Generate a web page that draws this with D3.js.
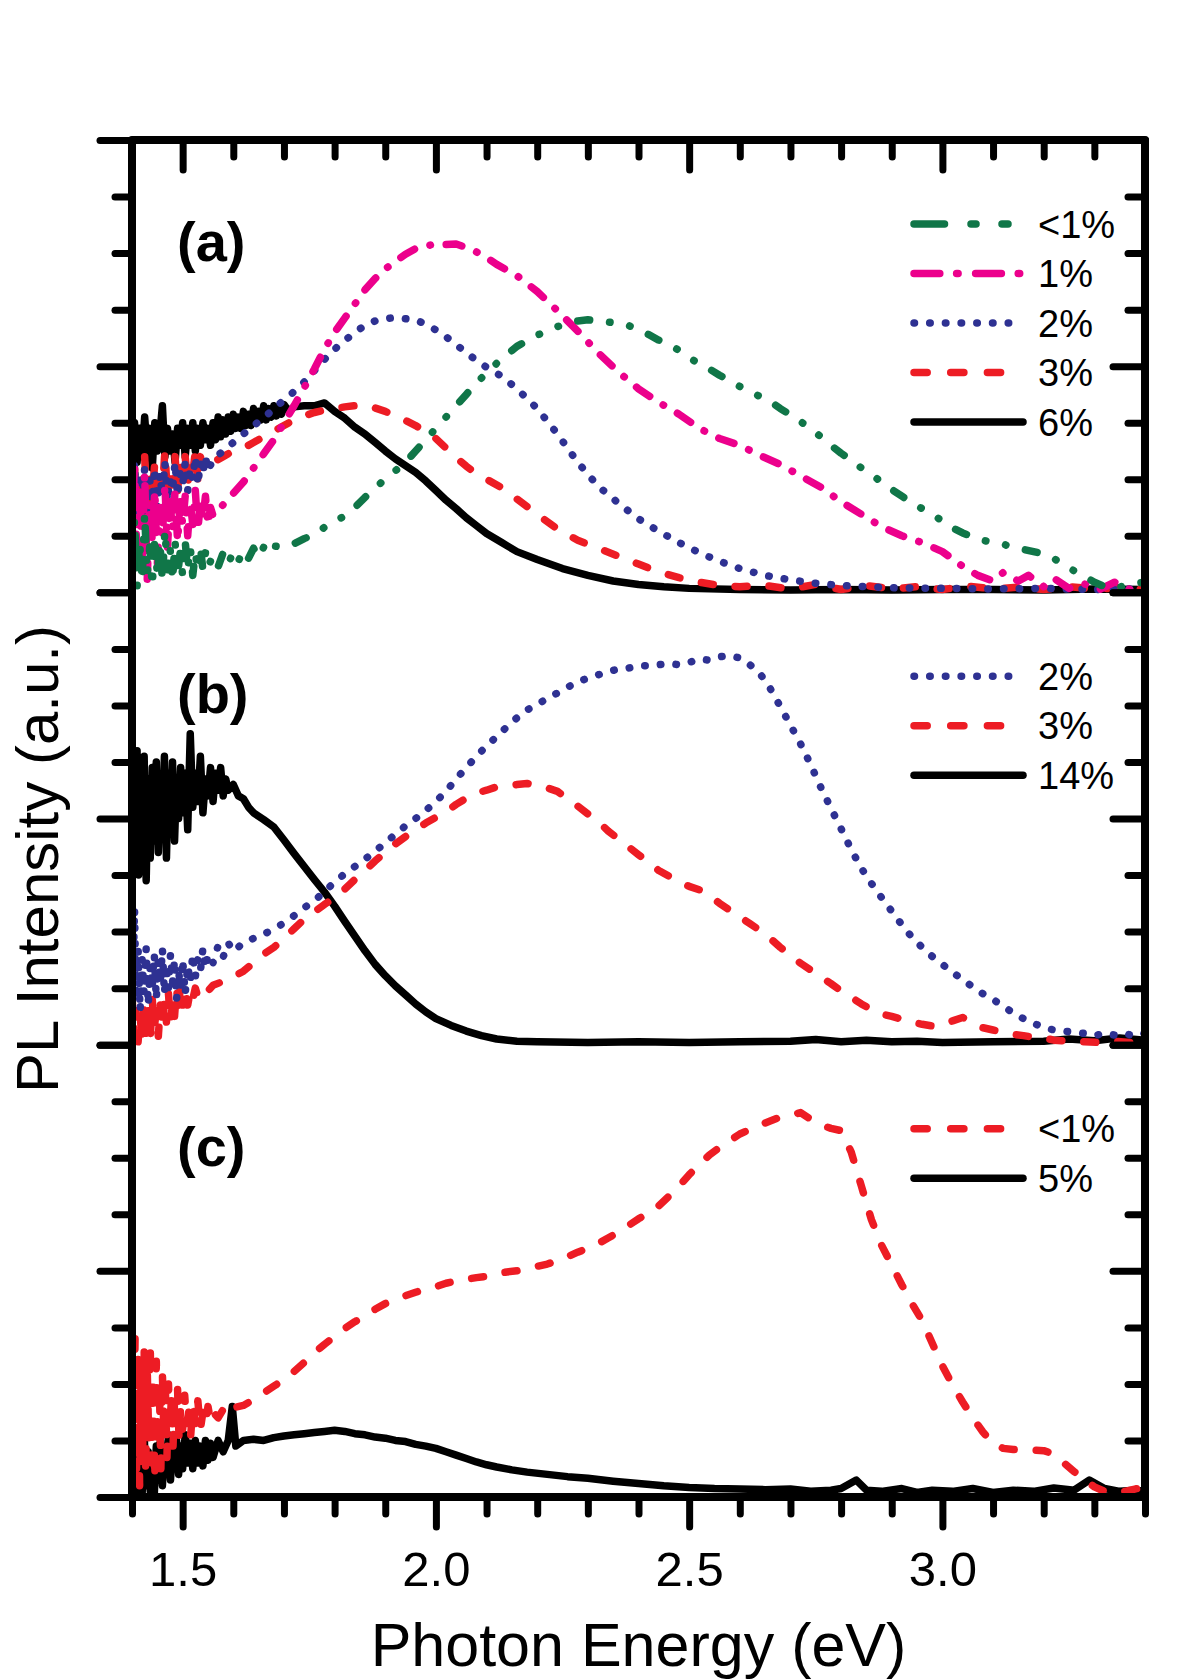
<!DOCTYPE html>
<html>
<head>
<meta charset="utf-8">
<script src="https://cdn.jsdelivr.net/npm/d3@7"></script>
<style>
  html, body { margin: 0; padding: 0; background: #fff; }
  svg { display: block; }
  text { font-family: "Liberation Sans", Arial, Helvetica, sans-serif; fill: #000; }
</style>
</head>
<body>
<svg id="chart" width="1200" height="1679"></svg>
<script>
// ---------------- DATA (Photon energy in eV, PL intensity in a.u.) ----------------
const xTickLabels = [1.5, 2.0, 2.5, 3.0];
const panelLabels = ["(a)", "(b)", "(c)"];

// Panel (a)
const a_lt1 = [[1.400,0.3],[1.405,1.3],[1.410,0.1],[1.415,0.9],[1.420,0.2],[1.425,1.4],[1.430,0.3],[1.435,0.8],[1.440,0.1],[1.445,1.0],[1.450,0.3],[1.455,0.9],[1.460,0.2],[1.465,1.1],[1.470,0.4],[1.475,0.8],[1.480,0.2],[1.485,0.9],[1.490,0.3],[1.495,0.7],[1.500,0.3],[1.505,0.9],[1.510,0.4],[1.515,0.8],[1.520,0.3],[1.525,0.7],[1.530,0.4],[1.535,0.8],[1.540,0.4],[1.545,0.7],[1.550,0.45],[1.56,0.65],[1.57,0.45],[1.58,0.7],[1.59,0.5],[1.60,0.72],[1.61,0.55],[1.62,0.75],[1.63,0.6],[1.64,0.78],[1.65,0.62],[1.66,0.8],[1.67,0.68],[1.68,0.82],[1.70,0.8],[1.72,0.86],[1.74,0.95],[1.76,1.02],[1.78,1.15],[1.80,1.26],[1.82,1.35],[1.84,1.5],[1.86,1.68],[1.88,1.85],[1.90,2.0],[1.92,2.15],[1.94,2.3],[1.96,2.5],[1.98,2.7],[2.00,2.9],[2.02,3.1],[2.04,3.3],[2.06,3.5],[2.08,3.7],[2.10,3.88],[2.12,4.05],[2.14,4.2],[2.16,4.35],[2.18,4.45],[2.20,4.55],[2.22,4.62],[2.24,4.7],[2.26,4.76],[2.28,4.8],[2.30,4.82],[2.32,4.8],[2.34,4.78],[2.36,4.76],[2.38,4.72],[2.40,4.65],[2.42,4.56],[2.44,4.46],[2.46,4.38],[2.48,4.28],[2.50,4.15],[2.52,4.04],[2.54,3.95],[2.56,3.84],[2.58,3.74],[2.60,3.64],[2.62,3.56],[2.64,3.46],[2.66,3.38],[2.68,3.25],[2.70,3.14],[2.72,3.02],[2.74,2.9],[2.76,2.75],[2.78,2.6],[2.80,2.46],[2.82,2.34],[2.84,2.2],[2.86,2.08],[2.88,1.95],[2.90,1.82],[2.92,1.7],[2.94,1.58],[2.96,1.48],[2.98,1.38],[3.00,1.26],[3.02,1.14],[3.04,1.05],[3.06,0.98],[3.08,0.92],[3.10,0.88],[3.12,0.85],[3.14,0.8],[3.16,0.76],[3.18,0.72],[3.20,0.68],[3.22,0.6],[3.24,0.48],[3.26,0.38],[3.28,0.28],[3.30,0.18],[3.32,0.1],[3.34,0.06],[3.36,0.12],[3.38,0.16],[3.40,0.18]];
const a_1 = [[1.400,1.0],[1.405,2.3],[1.410,0.4],[1.415,1.9],[1.420,0.6],[1.425,2.1],[1.430,0.2],[1.435,1.6],[1.440,0.9],[1.445,1.8],[1.450,0.5],[1.455,1.5],[1.460,1.0],[1.465,1.9],[1.470,0.8],[1.475,1.6],[1.480,1.1],[1.485,1.8],[1.490,0.9],[1.495,1.6],[1.500,1.2],[1.505,1.7],[1.510,1.0],[1.515,1.6],[1.520,1.2],[1.525,1.8],[1.530,1.1],[1.535,1.6],[1.540,1.3],[1.545,1.7],[1.550,1.2],[1.555,1.5],[1.560,1.35],[1.57,1.45],[1.58,1.55],[1.60,1.75],[1.62,1.95],[1.64,2.2],[1.66,2.45],[1.68,2.7],[1.70,3.0],[1.72,3.3],[1.74,3.62],[1.76,3.95],[1.78,4.3],[1.80,4.6],[1.82,4.85],[1.84,5.1],[1.86,5.35],[1.88,5.55],[1.90,5.72],[1.92,5.85],[1.94,5.98],[1.96,6.08],[1.98,6.12],[2.00,6.17],[2.02,6.15],[2.04,6.16],[2.06,6.1],[2.08,6.02],[2.10,5.92],[2.12,5.8],[2.16,5.6],[2.20,5.32],[2.24,4.98],[2.28,4.62],[2.32,4.24],[2.36,3.9],[2.40,3.6],[2.44,3.36],[2.48,3.15],[2.52,2.9],[2.56,2.72],[2.60,2.6],[2.64,2.42],[2.68,2.26],[2.72,2.06],[2.76,1.86],[2.80,1.6],[2.84,1.38],[2.88,1.16],[2.92,1.0],[2.96,0.88],[3.00,0.72],[3.04,0.46],[3.07,0.3],[3.10,0.2],[3.12,0.35],[3.15,0.2],[3.17,0.3],[3.20,0.1],[3.22,0.25],[3.25,0.07],[3.28,0.15],[3.31,0.05],[3.34,0.18],[3.37,0.05],[3.40,0.1]];
const a_2 = [[1.400,1.4],[1.405,2.3],[1.410,1.2],[1.415,2.1],[1.420,1.5],[1.425,2.2],[1.430,1.3],[1.435,2.0],[1.440,1.6],[1.445,2.2],[1.450,1.5],[1.455,2.1],[1.460,1.7],[1.465,2.3],[1.470,1.6],[1.475,2.0],[1.480,1.8],[1.485,2.3],[1.490,1.7],[1.495,2.1],[1.500,1.9],[1.505,2.3],[1.510,1.8],[1.515,2.2],[1.520,2.0],[1.525,2.4],[1.530,1.9],[1.535,2.3],[1.540,2.1],[1.545,2.4],[1.550,2.15],[1.56,2.35],[1.58,2.5],[1.60,2.65],[1.62,2.8],[1.64,2.95],[1.66,3.08],[1.68,3.25],[1.70,3.4],[1.72,3.55],[1.74,3.72],[1.76,3.92],[1.78,4.12],[1.80,4.3],[1.82,4.45],[1.84,4.6],[1.86,4.72],[1.88,4.8],[1.90,4.84],[1.92,4.86],[1.94,4.84],[1.96,4.82],[1.98,4.74],[2.00,4.64],[2.02,4.52],[2.04,4.38],[2.06,4.24],[2.08,4.1],[2.10,3.98],[2.13,3.82],[2.16,3.6],[2.20,3.25],[2.24,2.8],[2.28,2.3],[2.32,1.88],[2.36,1.58],[2.40,1.3],[2.44,1.08],[2.48,0.88],[2.52,0.7],[2.56,0.55],[2.60,0.42],[2.65,0.3],[2.70,0.22],[2.75,0.16],[2.80,0.12],[2.85,0.1],[2.90,0.08],[3.00,0.07],[3.10,0.06],[3.20,0.07],[3.30,0.05],[3.40,0.06]];
const a_3 = [[1.400,1.6],[1.405,2.2],[1.410,1.3],[1.415,2.0],[1.420,1.5],[1.425,2.4],[1.430,1.4],[1.435,2.1],[1.440,1.7],[1.445,2.3],[1.450,1.6],[1.455,2.2],[1.460,1.8],[1.465,2.5],[1.470,1.7],[1.475,2.2],[1.480,1.9],[1.485,2.4],[1.490,1.8],[1.495,2.3],[1.500,2.0],[1.505,2.4],[1.510,1.9],[1.515,2.3],[1.520,2.1],[1.525,2.5],[1.530,2.0],[1.535,2.4],[1.540,2.2],[1.550,2.35],[1.56,2.3],[1.58,2.4],[1.60,2.5],[1.62,2.55],[1.64,2.65],[1.66,2.75],[1.68,2.85],[1.70,2.95],[1.72,3.05],[1.74,3.12],[1.76,3.18],[1.78,3.22],[1.80,3.25],[1.82,3.28],[1.84,3.3],[1.86,3.31],[1.88,3.26],[1.90,3.2],[1.92,3.12],[1.94,3.04],[1.96,2.95],[1.98,2.84],[2.00,2.72],[2.02,2.55],[2.04,2.38],[2.06,2.23],[2.08,2.1],[2.10,2.0],[2.13,1.85],[2.16,1.65],[2.20,1.38],[2.24,1.12],[2.28,0.92],[2.32,0.78],[2.36,0.64],[2.40,0.5],[2.44,0.36],[2.48,0.26],[2.52,0.18],[2.56,0.12],[2.60,0.1],[2.65,0.12],[2.70,0.06],[2.75,0.14],[2.80,0.05],[2.85,0.12],[2.90,0.06],[2.95,0.1],[3.00,0.05],[3.05,0.11],[3.10,0.06],[3.15,0.09],[3.20,0.05],[3.25,0.1],[3.30,0.06],[3.35,0.08],[3.40,0.05]];
const a_6 = [[1.400,2.6],[1.405,3.0],[1.410,2.3],[1.415,2.9],[1.420,2.4],[1.425,3.1],[1.430,2.5],[1.435,2.9],[1.440,2.2],[1.445,3.0],[1.450,2.5],[1.455,2.8],[1.460,3.3],[1.465,2.4],[1.470,2.9],[1.475,2.5],[1.480,2.8],[1.485,2.3],[1.490,2.9],[1.495,2.6],[1.500,3.0],[1.505,2.4],[1.510,2.9],[1.515,2.6],[1.520,3.0],[1.525,2.5],[1.530,2.9],[1.535,2.6],[1.540,3.0],[1.545,2.7],[1.550,2.9],[1.555,2.6],[1.560,3.0],[1.565,2.7],[1.570,3.1],[1.575,2.75],[1.580,3.05],[1.585,2.8],[1.590,3.1],[1.595,2.85],[1.600,3.15],[1.605,2.9],[1.610,3.1],[1.615,2.9],[1.620,3.2],[1.625,2.95],[1.630,3.15],[1.635,2.95],[1.640,3.25],[1.645,3.0],[1.650,3.2],[1.655,3.05],[1.660,3.3],[1.665,3.05],[1.670,3.25],[1.675,3.1],[1.680,3.3],[1.685,3.12],[1.690,3.28],[1.695,3.15],[1.700,3.32],[1.710,3.2],[1.720,3.28],[1.740,3.3],[1.760,3.3],[1.780,3.35],[1.800,3.2],[1.820,3.08],[1.840,2.92],[1.860,2.8],[1.880,2.65],[1.900,2.5],[1.920,2.36],[1.940,2.24],[1.960,2.12],[1.980,1.97],[2.000,1.8],[2.020,1.63],[2.040,1.48],[2.060,1.32],[2.080,1.18],[2.100,1.04],[2.130,0.88],[2.160,0.72],[2.200,0.58],[2.250,0.42],[2.300,0.3],[2.350,0.2],[2.400,0.14],[2.450,0.1],[2.500,0.07],[2.600,0.05],[2.700,0.04],[2.800,0.05],[2.900,0.04],[3.000,0.05],[3.100,0.05],[3.200,0.04],[3.300,0.06],[3.400,0.05]];

// Panel (b)
const b_2 = [[1.400,3.0],[1.402,1.2],[1.405,2.4],[1.408,0.8],[1.412,1.7],[1.416,0.6],[1.420,1.5],[1.424,0.9],[1.428,1.7],[1.432,0.7],[1.436,1.4],[1.440,1.0],[1.444,1.6],[1.448,0.8],[1.452,1.5],[1.456,1.1],[1.460,1.7],[1.464,0.9],[1.468,1.4],[1.472,1.0],[1.476,1.6],[1.480,1.1],[1.484,1.5],[1.488,0.8],[1.492,1.3],[1.496,1.0],[1.500,1.5],[1.505,0.9],[1.510,1.4],[1.515,1.1],[1.520,1.6],[1.525,1.2],[1.530,1.5],[1.535,1.3],[1.540,1.7],[1.545,1.35],[1.550,1.6],[1.56,1.45],[1.57,1.75],[1.58,1.55],[1.59,1.8],[1.60,1.65],[1.62,1.8],[1.64,1.88],[1.66,1.95],[1.68,2.05],[1.70,2.15],[1.72,2.28],[1.74,2.42],[1.76,2.55],[1.78,2.7],[1.80,2.88],[1.82,3.02],[1.84,3.15],[1.86,3.28],[1.88,3.42],[1.90,3.57],[1.92,3.72],[1.94,3.87],[1.96,4.0],[1.98,4.14],[2.00,4.3],[2.02,4.48],[2.04,4.7],[2.06,4.9],[2.08,5.1],[2.10,5.28],[2.12,5.45],[2.14,5.62],[2.16,5.78],[2.18,5.92],[2.20,6.02],[2.22,6.12],[2.24,6.22],[2.26,6.32],[2.28,6.42],[2.30,6.48],[2.32,6.54],[2.34,6.6],[2.36,6.64],[2.38,6.66],[2.40,6.7],[2.42,6.7],[2.44,6.72],[2.46,6.74],[2.48,6.72],[2.50,6.76],[2.52,6.82],[2.54,6.8],[2.56,6.86],[2.58,6.88],[2.60,6.84],[2.62,6.72],[2.64,6.56],[2.66,6.3],[2.68,5.98],[2.70,5.65],[2.72,5.32],[2.74,4.95],[2.76,4.55],[2.78,4.18],[2.80,3.82],[2.82,3.45],[2.84,3.12],[2.86,2.85],[2.88,2.6],[2.90,2.36],[2.92,2.12],[2.94,1.9],[2.96,1.72],[2.98,1.56],[3.00,1.42],[3.02,1.28],[3.04,1.15],[3.06,1.02],[3.08,0.9],[3.10,0.8],[3.12,0.68],[3.14,0.56],[3.16,0.46],[3.18,0.38],[3.20,0.3],[3.22,0.26],[3.24,0.24],[3.26,0.22],[3.28,0.2],[3.30,0.16],[3.32,0.2],[3.34,0.17],[3.36,0.2],[3.38,0.15],[3.40,0.2]];
const b_3 = [[1.400,0.9],[1.404,0.1],[1.408,0.6],[1.412,0.05],[1.416,0.5],[1.420,0.1],[1.424,0.7],[1.428,0.2],[1.432,0.6],[1.436,0.1],[1.440,0.8],[1.444,0.3],[1.448,0.6],[1.452,0.15],[1.456,0.7],[1.460,0.3],[1.464,0.8],[1.468,0.4],[1.472,0.9],[1.476,0.4],[1.480,0.8],[1.484,0.5],[1.488,1.0],[1.492,0.6],[1.496,1.15],[1.500,0.7],[1.505,1.0],[1.510,0.7],[1.515,0.95],[1.520,0.8],[1.525,1.0],[1.530,0.85],[1.540,1.0],[1.55,0.95],[1.56,1.05],[1.58,1.12],[1.60,1.2],[1.62,1.3],[1.64,1.45],[1.66,1.6],[1.68,1.72],[1.70,1.88],[1.72,2.05],[1.74,2.22],[1.76,2.35],[1.78,2.48],[1.80,2.6],[1.82,2.75],[1.84,2.92],[1.86,3.08],[1.88,3.25],[1.90,3.4],[1.92,3.55],[1.94,3.68],[1.96,3.8],[1.98,3.92],[2.00,4.02],[2.02,4.12],[2.04,4.25],[2.06,4.36],[2.08,4.45],[2.10,4.5],[2.12,4.56],[2.14,4.58],[2.16,4.6],[2.18,4.62],[2.20,4.58],[2.22,4.54],[2.24,4.48],[2.26,4.35],[2.28,4.22],[2.30,4.08],[2.32,3.95],[2.34,3.78],[2.36,3.64],[2.38,3.5],[2.40,3.36],[2.42,3.22],[2.44,3.08],[2.46,2.98],[2.48,2.88],[2.50,2.8],[2.52,2.74],[2.54,2.64],[2.56,2.5],[2.58,2.38],[2.60,2.26],[2.62,2.14],[2.64,2.02],[2.66,1.88],[2.68,1.72],[2.70,1.58],[2.72,1.44],[2.74,1.32],[2.76,1.2],[2.78,1.08],[2.80,0.95],[2.82,0.84],[2.84,0.72],[2.86,0.62],[2.88,0.54],[2.90,0.5],[2.92,0.45],[2.94,0.4],[2.96,0.36],[2.98,0.33],[3.00,0.35],[3.02,0.42],[3.04,0.48],[3.06,0.4],[3.08,0.3],[3.10,0.26],[3.12,0.22],[3.14,0.18],[3.16,0.16],[3.18,0.13],[3.20,0.12],[3.22,0.08],[3.25,0.06],[3.28,0.05],[3.31,0.04],[3.34,0.06],[3.37,0.04],[3.40,0.05]];
const b_14 = [[1.400,3.2],[1.403,5.0],[1.406,3.6],[1.410,5.2],[1.413,3.0],[1.417,4.8],[1.420,3.4],[1.424,5.1],[1.428,2.9],[1.432,4.7],[1.436,3.3],[1.440,4.9],[1.444,3.6],[1.448,5.0],[1.452,3.4],[1.456,4.6],[1.460,3.8],[1.464,5.1],[1.468,3.3],[1.472,4.8],[1.476,3.9],[1.480,5.0],[1.484,3.6],[1.488,4.7],[1.492,4.0],[1.496,4.9],[1.500,4.1],[1.505,4.8],[1.510,3.8],[1.515,5.5],[1.520,4.2],[1.525,4.8],[1.530,4.3],[1.535,5.1],[1.540,4.1],[1.545,4.7],[1.550,4.4],[1.555,4.9],[1.560,4.3],[1.565,4.8],[1.570,4.5],[1.575,4.9],[1.580,4.4],[1.585,4.7],[1.590,4.5],[1.600,4.6],[1.610,4.4],[1.620,4.35],[1.63,4.2],[1.64,4.1],[1.66,3.98],[1.68,3.85],[1.70,3.62],[1.72,3.38],[1.74,3.15],[1.76,2.92],[1.78,2.7],[1.80,2.45],[1.82,2.18],[1.84,1.92],[1.86,1.66],[1.88,1.42],[1.90,1.22],[1.92,1.04],[1.94,0.88],[1.96,0.72],[1.98,0.58],[2.00,0.46],[2.03,0.34],[2.06,0.24],[2.09,0.16],[2.12,0.1],[2.16,0.06],[2.20,0.05],[2.3,0.04],[2.4,0.05],[2.5,0.04],[2.6,0.05],[2.7,0.06],[2.75,0.09],[2.8,0.05],[2.85,0.08],[2.9,0.05],[2.95,0.06],[3.0,0.04],[3.1,0.05],[3.2,0.06],[3.25,0.1],[3.3,0.07],[3.35,0.12],[3.4,0.08]];

// Panel (c)
const c_lt1 = [[1.400,3.4],[1.403,0.3],[1.406,2.8],[1.409,0.5],[1.412,2.5],[1.415,0.2],[1.418,2.2],[1.421,0.8],[1.424,2.6],[1.427,0.4],[1.430,2.3],[1.433,1.0],[1.436,2.7],[1.439,0.6],[1.442,2.1],[1.445,0.3],[1.448,2.4],[1.451,0.9],[1.454,2.0],[1.457,0.5],[1.460,2.2],[1.463,1.1],[1.466,1.9],[1.469,0.7],[1.472,2.0],[1.475,1.2],[1.478,1.8],[1.481,0.9],[1.484,1.7],[1.487,1.3],[1.490,1.9],[1.493,1.0],[1.496,1.6],[1.500,1.2],[1.504,1.8],[1.508,1.3],[1.512,1.5],[1.516,1.1],[1.520,1.6],[1.525,1.3],[1.530,1.7],[1.535,1.2],[1.540,1.5],[1.545,1.3],[1.550,1.6],[1.555,1.35],[1.56,1.5],[1.57,1.4],[1.58,1.55],[1.59,1.45],[1.60,1.58],[1.62,1.62],[1.64,1.72],[1.66,1.84],[1.68,1.96],[1.70,2.08],[1.72,2.22],[1.74,2.38],[1.76,2.55],[1.78,2.7],[1.80,2.84],[1.82,2.98],[1.84,3.1],[1.86,3.2],[1.88,3.32],[1.90,3.42],[1.92,3.5],[1.94,3.56],[1.96,3.62],[1.98,3.68],[2.00,3.72],[2.02,3.78],[2.04,3.82],[2.06,3.85],[2.08,3.88],[2.10,3.9],[2.12,3.95],[2.14,3.98],[2.16,4.0],[2.18,4.04],[2.20,4.08],[2.22,4.12],[2.24,4.18],[2.26,4.25],[2.28,4.33],[2.30,4.4],[2.32,4.48],[2.34,4.58],[2.36,4.68],[2.38,4.8],[2.40,4.92],[2.42,5.02],[2.44,5.15],[2.46,5.32],[2.48,5.5],[2.50,5.7],[2.52,5.88],[2.54,6.05],[2.56,6.18],[2.58,6.3],[2.60,6.42],[2.62,6.5],[2.64,6.58],[2.66,6.65],[2.68,6.72],[2.70,6.75],[2.72,6.8],[2.74,6.68],[2.76,6.58],[2.78,6.52],[2.80,6.48],[2.82,6.1],[2.84,5.5],[2.86,4.9],[2.88,4.45],[2.90,4.1],[2.92,3.75],[2.94,3.42],[2.96,3.12],[2.98,2.72],[3.00,2.32],[3.02,1.98],[3.04,1.68],[3.06,1.4],[3.08,1.15],[3.10,0.95],[3.12,0.86],[3.14,0.84],[3.16,0.83],[3.18,0.83],[3.20,0.82],[3.22,0.76],[3.24,0.6],[3.26,0.45],[3.28,0.3],[3.30,0.18],[3.32,0.1],[3.34,0.08],[3.36,0.1],[3.38,0.14],[3.40,0.18]];
const c_5 = [[1.400,0.6],[1.404,0.05],[1.408,0.9],[1.412,0.1],[1.416,0.7],[1.420,0.05],[1.424,1.1],[1.428,0.2],[1.432,0.8],[1.436,0.1],[1.440,0.6],[1.444,0.05],[1.448,0.9],[1.452,0.3],[1.456,1.0],[1.460,0.2],[1.464,0.8],[1.468,0.4],[1.472,1.1],[1.476,0.3],[1.480,0.9],[1.484,0.5],[1.488,1.0],[1.492,0.4],[1.496,0.9],[1.500,0.5],[1.505,1.1],[1.510,0.6],[1.515,0.95],[1.520,0.5],[1.525,1.0],[1.530,0.6],[1.535,0.9],[1.540,0.55],[1.545,1.0],[1.550,0.65],[1.555,0.95],[1.560,0.7],[1.570,1.0],[1.580,0.8],[1.590,1.0],[1.598,1.6],[1.605,0.9],[1.62,1.0],[1.64,1.02],[1.66,1.0],[1.68,1.05],[1.70,1.08],[1.72,1.1],[1.74,1.12],[1.76,1.14],[1.78,1.16],[1.80,1.18],[1.82,1.16],[1.84,1.12],[1.86,1.1],[1.88,1.06],[1.90,1.04],[1.92,1.0],[1.94,0.98],[1.96,0.93],[1.98,0.9],[2.00,0.86],[2.02,0.8],[2.04,0.74],[2.06,0.68],[2.08,0.62],[2.10,0.57],[2.12,0.53],[2.15,0.48],[2.18,0.44],[2.22,0.4],[2.26,0.36],[2.30,0.33],[2.35,0.28],[2.40,0.24],[2.45,0.2],[2.50,0.17],[2.55,0.15],[2.60,0.14],[2.65,0.13],[2.70,0.14],[2.74,0.1],[2.78,0.12],[2.80,0.15],[2.83,0.3],[2.85,0.12],[2.88,0.1],[2.92,0.15],[2.95,0.08],[2.98,0.12],[3.02,0.1],[3.06,0.15],[3.10,0.08],[3.14,0.12],[3.18,0.1],[3.22,0.16],[3.26,0.12],[3.29,0.3],[3.32,0.15],[3.35,0.1],[3.38,0.12],[3.40,0.1]];

// ---------------- STYLES ----------------
const COLORS = { green: "#107648", magenta: "#ec008c", blue: "#2e3192", red: "#ed1c24", black: "#000000" };
// legend dash patterns (as drawn in the key)
const LEGEND_DASH = {
  dashdotdot: "30.5,26.5,5,26,6,26",
  dashdot: "25.8,16.8,1.5,17.5",
  dot: "0.5,15.2",
  dash: "13.2,23.5",
  solid: null
};
// dash patterns as they appear along the data curves (shorter segments)
const PLOT_DASH = {
  dashdotdot: "12,20,0.5,20,0.5,20",
  dashdot: "16,16,0.5,16",
  dot: "0.5,15.2",
  dash: "12,22",
  solid: null
};

// series: drawn in order (first = bottom); legend order given separately
const panels = [
  { label: panelLabels[0],
    series: [
      { name: "6%",  data: a_6,   color: COLORS.black,   dash: "solid" },
      { name: "3%",  data: a_3,   color: COLORS.red,     dash: "dash" },
      { name: "2%",  data: a_2,   color: COLORS.blue,    dash: "dot" },
      { name: "1%",  data: a_1,   color: COLORS.magenta, dash: "dashdot" },
      { name: "<1%", data: a_lt1, color: COLORS.green,   dash: "dashdotdot" }
    ],
    legend: ["<1%", "1%", "2%", "3%", "6%"] },
  { label: panelLabels[1],
    series: [
      { name: "14%", data: b_14, color: COLORS.black, dash: "solid" },
      { name: "3%",  data: b_3,  color: COLORS.red,   dash: "dash" },
      { name: "2%",  data: b_2,  color: COLORS.blue,  dash: "dot" }
    ],
    legend: ["2%", "3%", "14%"] },
  { label: panelLabels[2],
    series: [
      { name: "5%",  data: c_5,   color: COLORS.black, dash: "solid" },
      { name: "<1%", data: c_lt1, color: COLORS.red,   dash: "dash" }
    ],
    legend: ["<1%", "5%"] }
];

// ---------------- LAYOUT ----------------
const svg = d3.select("#chart");
svg.append("rect").attr("width", 1200).attr("height", 1679).attr("fill", "#fff");

const L = 132, R = 1145, T = 140, B = 1497;
const panelH = (B - T) / 3;
const LW = 7.5;       // data line width
const AXW = 8;        // frame width
const TKW = 7;        // tick width

const x = d3.scaleLinear().domain([1.4, 3.4]).range([L, R]);

svg.append("defs").append("clipPath").attr("id", "plotclip")
  .append("rect").attr("x", L).attr("y", T - 10).attr("width", R - L).attr("height", B - T + 10);

const line = (y) => d3.line().x(d => x(d[0])).y(d => y(d[1]));

const minorY = d3.range(0, 9, 1);
const majorY = [0, 4, 8];

panels.forEach((p, i) => {
  const top = T + i * panelH, bot = top + panelH;
  const y = d3.scaleLinear().domain([0, 8]).range([bot, top]);

  const g = svg.append("g").attr("clip-path", "url(#plotclip)");
  p.series.forEach(s => {
    g.append("path")
      .datum(s.data)
      .attr("d", line(y))
      .attr("fill", "none")
      .attr("stroke", s.color)
      .attr("stroke-width", LW)
      .attr("stroke-linecap", "round")
      .attr("stroke-linejoin", "round")
      .attr("stroke-dasharray", PLOT_DASH[s.dash]);
  });

  // y axes (left outward, right inward)
  const addY = (axisFn, xpos, vals, size) => {
    const ax = svg.append("g").attr("transform", `translate(${xpos},0)`)
      .call(axisFn(y).tickValues(vals).tickSize(size).tickFormat(""));
    ax.select(".domain").remove();
    ax.selectAll(".tick line").attr("stroke", "#000").attr("stroke-width", TKW).attr("stroke-linecap", "round");
  };
  addY(d3.axisLeft, L, minorY.filter(v => !majorY.includes(v)), 17);
  addY(d3.axisLeft, L, majorY, 32);
  addY(d3.axisLeft, R, minorY.filter(v => !majorY.includes(v)), 17);
  addY(d3.axisLeft, R, majorY, 32);

  // panel label
  svg.append("text")
    .attr("x", 177).attr("y", top + 121)
    .attr("font-size", 56).attr("font-weight", "bold")
    .text(p.label);

  // legend
  const lg = svg.append("g");
  p.legend.forEach((name, k) => {
    const s = p.series.find(d => d.name === name);
    const ry = top + 84 + k * 49.5;
    lg.append("path")
      .attr("d", d3.line()([[914, ry], [1023, ry]]))
      .attr("stroke", s.color).attr("stroke-width", LW)
      .attr("stroke-linecap", "round").attr("fill", "none")
      .attr("stroke-dasharray", LEGEND_DASH[s.dash]);
    lg.append("text").attr("x", 1038).attr("y", ry + 13.5)
      .attr("font-size", 38).text(name);
  });
});

// x axes: bottom (outward), top (inward)
const minorX = d3.range(14, 35, 1).map(v => v / 10).filter(v => !xTickLabels.includes(v));
const addX = (axisFn, ypos, vals, size, withLabels) => {
  const ax = svg.append("g").attr("transform", `translate(0,${ypos})`)
    .call(axisFn(x).tickValues(vals).tickSize(size).tickPadding(24)
      .tickFormat(withLabels ? d3.format(".1f") : ""));
  ax.select(".domain").remove();
  ax.selectAll(".tick line").attr("stroke", "#000").attr("stroke-width", TKW).attr("stroke-linecap", "round");
  ax.selectAll(".tick text").attr("font-size", 49)
    .attr("font-family", '"Liberation Sans", Arial, sans-serif').attr("fill", "#000");
};
addX(d3.axisBottom, B, minorX, 17, false);
addX(d3.axisBottom, B, xTickLabels, 30, true);
addX(d3.axisBottom, T, minorX, 17, false);
addX(d3.axisBottom, T, xTickLabels, 30, false);

// frame
svg.append("rect").attr("x", L).attr("y", T).attr("width", R - L).attr("height", B - T)
  .attr("fill", "none").attr("stroke", "#000").attr("stroke-width", AXW).attr("stroke-linejoin", "round");

// axis titles
svg.append("text").attr("x", (L + R) / 2).attr("y", 1666)
  .attr("text-anchor", "middle").attr("font-size", 61).text("Photon Energy (eV)");
svg.append("text").attr("transform", "translate(58,859) rotate(-90)")
  .attr("text-anchor", "middle").attr("font-size", 60).text("PL Intensity (a.u.)");
</script>
</body>
</html>
